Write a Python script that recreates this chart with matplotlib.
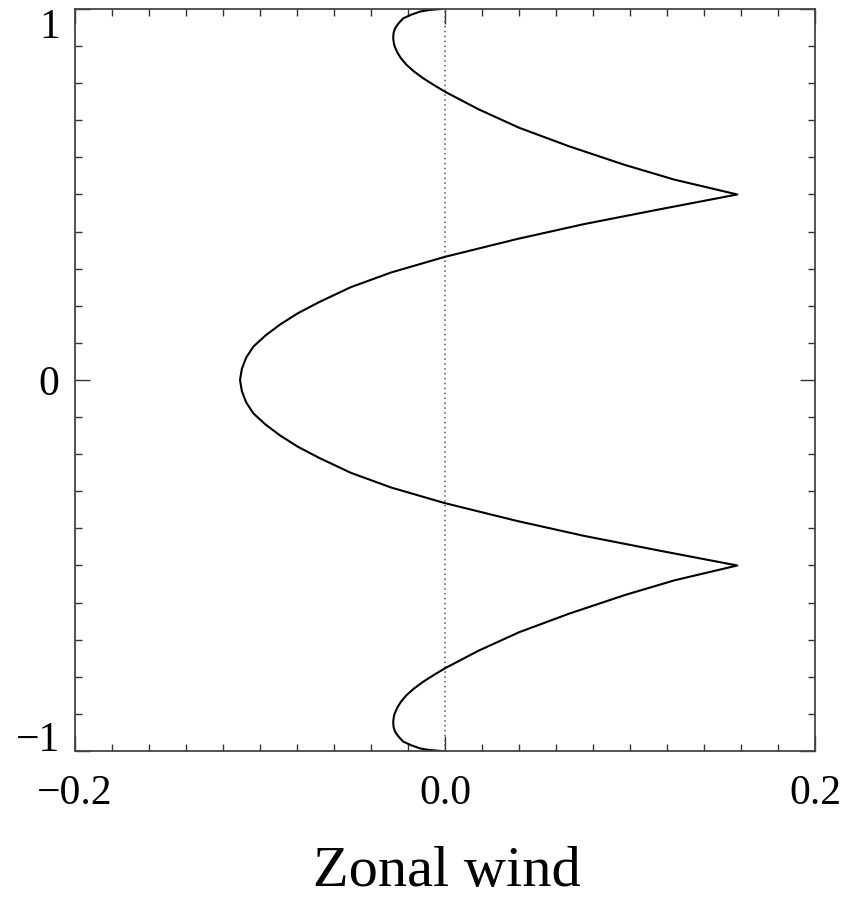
import numpy as np
import matplotlib
matplotlib.use('Agg')
import matplotlib.pyplot as plt
from matplotlib.ticker import MultipleLocator

plt.rcParams['font.family'] = ['Liberation Serif', 'DejaVu Serif']

# profile: latitude coordinate (y) vs zonal wind (u)
y_north = [1.0, 0.997, 0.993, 0.985, 0.975, 0.962, 0.948, 0.935, 0.921, 0.903, 0.885,
           0.867, 0.849, 0.831, 0.813, 0.795, 0.777,
           0.73, 0.68, 0.63, 0.58, 0.54, 0.5,
           0.46, 0.42, 0.38, 0.332, 0.29, 0.25, 0.21, 0.18, 0.15, 0.12, 0.09, 0.06, 0.03, 0.0]
u_north = [-0.002, -0.009, -0.0135, -0.018, -0.0225, -0.025, -0.027, -0.0278, -0.028, -0.0275, -0.026,
           -0.0238, -0.0207, -0.0166, -0.0117, -0.006, 0.0,
           0.018, 0.040, 0.067, 0.097, 0.124, 0.158,
           0.116, 0.075, 0.039, 0.0, -0.029, -0.051, -0.068, -0.0795, -0.089, -0.097, -0.1036, -0.1075, -0.1098, -0.1108]
y_south = [-0.03, -0.06, -0.09, -0.12, -0.15, -0.18, -0.21, -0.25, -0.29, -0.332, -0.38, -0.42, -0.46,
           -0.5, -0.54, -0.58, -0.63, -0.68, -0.73,
           -0.777, -0.795, -0.813, -0.831, -0.849, -0.867, -0.885, -0.903, -0.921, -0.935, -0.948,
           -0.962, -0.975, -0.985, -0.993, -0.997, -1.0]
u_south = [-0.1098, -0.1075, -0.1036, -0.097, -0.089, -0.0795, -0.068, -0.051, -0.029, 0.0, 0.039, 0.075, 0.116,
           0.158, 0.124, 0.097, 0.067, 0.040, 0.018,
           0.0, -0.006, -0.0117, -0.0166, -0.0207, -0.0238, -0.026, -0.0275, -0.028, -0.0278, -0.027,
           -0.025, -0.0225, -0.018, -0.0135, -0.009, -0.002]

y = np.array(y_north + y_south)
u = np.array(u_north + u_south)

fig = plt.figure(figsize=(8.57, 8.98), dpi=100)
ax = fig.add_axes([0.0875, 0.1637, 0.8635, 0.8263])

ax.axvline(0.0, color='#555555', lw=1.1, ls=(0, (1, 2.2)))
ax.plot(u, y, color='black', lw=1.5)

ax.set_xlim(-0.2, 0.2)
ax.set_ylim(-1, 1)

ax.set_xticks([-0.2, 0.0, 0.2], ['\u22120.2', '0.0', '0.2'])
ax.set_yticks([-1, 0, 1], ['\u22121', '0', '1'])
ax.xaxis.set_minor_locator(MultipleLocator(0.02))
ax.yaxis.set_minor_locator(MultipleLocator(0.1))

ax.tick_params(which='both', direction='in', top=True, right=True, color='#333333', width=1.0)
ax.tick_params(which='major', length=10.5, labelsize=30)
ax.tick_params(axis='x', which='major', pad=17)
ax.tick_params(axis='y', which='major', pad=11)
ax.tick_params(which='minor', length=5)
for s in ax.spines.values():
    s.set_color('#444444')
    s.set_linewidth(1.3)

# end labels sit inside the frame, as in the original
ylabs = ax.get_yticklabels()
ylabs[0].set_va('baseline')
ylabs[2].set_va('top')

# axis title placed on its baseline so it sits low like the original
fig.text(0.522, 0.013, 'Zonal wind', fontsize=42, ha='center', va='baseline')

fig.savefig('out.png', dpi=100)
